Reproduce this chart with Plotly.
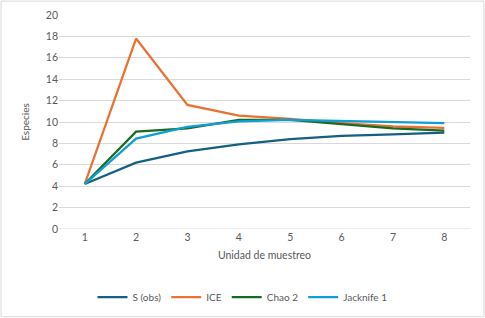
import plotly.graph_objects as go

unidades = [1, 2, 3, 4, 5, 6, 7, 8]
s_obs = [4.2, 6.2, 7.25, 7.9, 8.4, 8.7, 8.85, 9.0]
ice = [4.2, 17.8, 11.6, 10.6, 10.3, 9.9, 9.6, 9.45]
chao2 = [4.2, 9.1, 9.4, 10.2, 10.2, 9.8, 9.4, 9.2]
jack1 = [4.2, 8.45, 9.55, 10.05, 10.2, 10.1, 10.0, 9.9]

series = [
    ("S (obs)", s_obs, "#156082"),
    ("ICE", ice, "#E97132"),
    ("Chao 2", chao2, "#196B24"),
    ("Jacknife 1", jack1, "#0F9ED5"),
]

fig = go.Figure()
for name, vals, col in series:
    fig.add_trace(go.Scatter(x=unidades, y=vals, name=name, mode="lines",
                             line=dict(color=col, width=2.25)))

font = "Lato, 'Open Sans', sans-serif"
fig.update_layout(
    width=485, height=318,
    margin=dict(l=59, r=15, t=15, b=89, autoexpand=False),
    paper_bgcolor="white", plot_bgcolor="white",
    font=dict(family=font, size=10, color="#595959"),
    showlegend=True,
    legend=dict(orientation="h", x=0.5, xanchor="center", xref="container",
                y=0.066, yanchor="middle", yref="container",
                font=dict(size=10, color="#595959"), itemwidth=30, tracegroupgap=0),
    xaxis=dict(range=[0.5, 8.5], tickvals=unidades, showgrid=False, zeroline=False,
               showline=False, ticks="", automargin=False,
               tickfont=dict(size=10.5, color="#595959"),
               title=dict(text="Unidad de muestreo", font=dict(size=10.5, color="#595959"), standoff=10)),
    yaxis=dict(range=[0, 20], dtick=2, showgrid=True, gridcolor="#d9d9d9", gridwidth=1,
               zeroline=False, showline=False, ticks="", automargin=False,
               tickfont=dict(size=10.5, color="#595959"),
               title=dict(text="Especies", font=dict(size=10, color="#595959"), standoff=14)),
    shapes=[dict(type="rect", xref="paper", yref="paper", x0=-0.141, x1=1.034, y0=-0.41, y1=1.065,
                 line=dict(color="#d9d9d9", width=1), fillcolor="rgba(0,0,0,0)", layer="below")],
)
fig.add_shape(type="line", xref="paper", yref="y", x0=0, x1=1, y0=0, y1=0,
              line=dict(color="#d9d9d9", width=1), layer="below")

fig.write_html("out.html", config={"displayModeBar": False},
               post_script="document.body.style.margin='0';document.body.style.overflow='hidden';")
